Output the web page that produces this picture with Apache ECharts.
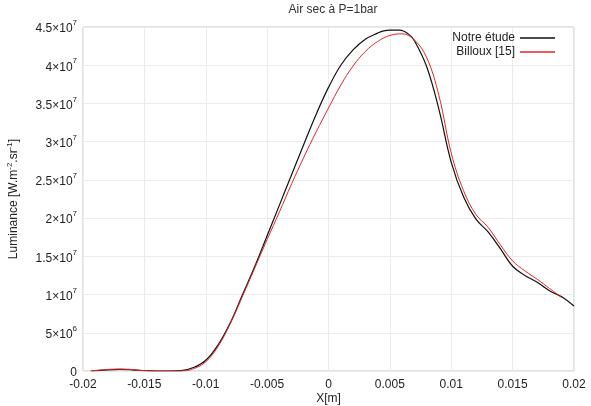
<!DOCTYPE html>
<html>
<head>
<meta charset="utf-8">
<script src="https://cdn.jsdelivr.net/npm/echarts@6/dist/echarts.min.js"></script>
<style>
  html, body { margin: 0; padding: 0; background: #fff; }
  #chart { width: 591px; height: 406px; }
</style>
</head>
<body>
<div id="chart"></div>
<script>
  // Notre étude (black)
  var studyX = [-0.0193, -0.018, -0.017, -0.016, -0.015, -0.014, -0.013, -0.012, -0.011, -0.010,
    -0.009, -0.008, -0.007, -0.006, -0.005, -0.004, -0.003, -0.002, -0.001, 0,
    0.001, 0.002, 0.003, 0.004, 0.0045, 0.005, 0.0058, 0.0065, 0.007, 0.008, 0.009, 0.010,
    0.011, 0.012, 0.013, 0.014, 0.015, 0.016, 0.017, 0.018, 0.019, 0.020];
  var studyY = [0, 1.5e5, 2e5, 1.5e5, 5e4, 0, 0, 5e4, 4.5e5, 1.4e6,
    3.4e6, 6.3e6, 1.0e7, 1.37e7, 1.77e7, 2.17e7, 2.57e7, 2.97e7, 3.36e7, 3.71e7,
    4.0e7, 4.2e7, 4.34e7, 4.42e7, 4.45e7, 4.46e7, 4.46e7, 4.41e7, 4.32e7, 3.98e7, 3.42e7, 2.73e7,
    2.28e7, 1.99e7, 1.82e7, 1.60e7, 1.37e7, 1.25e7, 1.16e7, 1.05e7, 9.7e6, 8.5e6];

  // Billoux [15] (red)
  var billouxX = [-0.0194, -0.018, -0.017, -0.016, -0.015, -0.014, -0.013, -0.012, -0.011, -0.010,
    -0.009, -0.008, -0.007, -0.006, -0.005, -0.004, -0.003, -0.002, -0.001, 0,
    0.001, 0.002, 0.003, 0.004, 0.005, 0.006, 0.007, 0.008, 0.009, 0.010,
    0.011, 0.012, 0.013, 0.014, 0.015, 0.016, 0.017, 0.018, 0.019];
  var billouxY = [0, 2e5, 2.5e5, 2e5, 5e4, 0, 0, 0, 3e5, 1.2e6,
    3.2e6, 6.2e6, 9.8e6, 1.35e7, 1.72e7, 2.08e7, 2.45e7, 2.8e7, 3.13e7, 3.44e7,
    3.74e7, 3.99e7, 4.18e7, 4.31e7, 4.39e7, 4.41e7, 4.33e7, 4.1e7, 3.6e7, 2.85e7,
    2.36e7, 2.05e7, 1.88e7, 1.65e7, 1.44e7, 1.31e7, 1.2e7, 1.08e7, 9.6e6];

  var xTicks = [-0.02, -0.015, -0.01, -0.005, 0, 0.005, 0.01, 0.015, 0.02];

  function pairs(xs, ys) {
    return xs.map(function (x, i) { return [x, ys[i]]; });
  }

  function sciLabel(v) {
    if (v === 0) return '{b|0}';
    var e = Math.floor(Math.log10(v) + 1e-9);
    var m = Math.round(v / Math.pow(10, e) * 10) / 10;
    return '{b|' + m + '×10}{s|' + e + '}';
  }

  var font = 'Liberation Sans, Arial, sans-serif';
  var myChart = echarts.init(document.getElementById('chart'));
  var option = {
    animation: false,
    backgroundColor: '#fff',
    title: {
      text: 'Air sec à P=1bar',
      left: 328,
      textAlign: 'center',
      top: -1,
      textStyle: { fontFamily: font, fontSize: 12, fontWeight: 'normal', color: '#333' }
    },
    grid: {
      left: 83, right: 17, top: 27, bottom: 35,
      outerBoundsMode: 'none',
      containLabel: false,
      show: true, borderColor: '#c4c4c4', borderWidth: 1
    },
    legend: {
      right: 31, top: 27,
      orient: 'vertical',
      align: 'right',
      icon: 'rect',
      itemWidth: 35, itemHeight: 1.5, itemGap: 2,
      textStyle: { fontFamily: font, fontSize: 12, color: '#222', padding: [0, 0, 0, 0] },
      data: ['Notre étude', 'Billoux [15]']
    },
    xAxis: {
      type: 'value',
      min: -0.02, max: 0.02, interval: 0.005,
      name: 'X[m]',
      nameLocation: 'middle',
      nameMoveOverlap: false,
      nameGap: 22,
      nameTextStyle: { fontFamily: font, fontSize: 12, color: '#222' },
      axisLine: { show: false },
      axisTick: { show: false },
      splitLine: { lineStyle: { color: '#ebebeb' } },
      axisLabel: {
        fontFamily: font, fontSize: 12, color: '#222', margin: 8,
        formatter: function (v) {
          var t = xTicks.filter(function (k) { return Math.abs(k - v) < 1e-9; })[0];
          return String(t);
        }
      }
    },
    yAxis: {
      type: 'value',
      min: 0, max: 4.5e7, interval: 5e6,
      name: 'Luminance [W.m{s|-2}.sr{s|-1}]',
      nameLocation: 'middle',
      nameMoveOverlap: false,
      nameRotate: 90,
      nameGap: 61,
      nameTextStyle: {
        fontFamily: font, fontSize: 12, color: '#222',
        rich: {
          s: { fontFamily: font, fontSize: 8, color: '#222', verticalAlign: 'top', lineHeight: 16 }
        }
      },
      axisLine: { show: false },
      axisTick: { show: false },
      splitLine: { lineStyle: { color: '#ebebeb' } },
      axisLabel: {
        margin: 6,
        formatter: sciLabel,
        rich: {
          b: { fontFamily: font, fontSize: 12, color: '#222', lineHeight: 16, verticalAlign: 'bottom' },
          s: { fontFamily: font, fontSize: 8, color: '#222', lineHeight: 16, verticalAlign: 'top' }
        }
      }
    },
    series: [
      {
        name: 'Notre étude',
        type: 'line',
        data: pairs(studyX, studyY),
        smooth: 0.4,
        symbol: 'none',
        color: '#111',
        lineStyle: { color: '#111', width: 1.2 }
      },
      {
        name: 'Billoux [15]',
        type: 'line',
        data: pairs(billouxX, billouxY),
        smooth: 0.4,
        symbol: 'none',
        color: '#e3262b',
        lineStyle: { color: '#e3262b', width: 1 }
      }
    ]
  };
  myChart.setOption(option);
</script>
</body>
</html>
